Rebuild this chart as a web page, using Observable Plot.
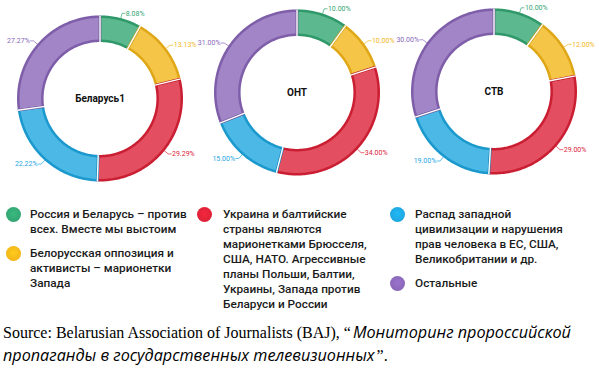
<!DOCTYPE html>
<html><head><meta charset="utf-8">
<script src="https://cdn.jsdelivr.net/npm/d3@7"></script>
<script src="https://cdn.jsdelivr.net/npm/@observablehq/plot@0.6"></script>
<style>
body{margin:0;background:#fff;}
#wrap{position:relative;width:599px;height:377px;overflow:hidden;font-family:Roboto,sans-serif;}
#chart{position:absolute;left:0;top:0;}
.item{position:absolute;font-size:11.8px;font-weight:500;line-height:15px;color:#1b1b1b;white-space:pre;}
.dot{position:absolute;width:15px;height:15px;border-radius:50%;}
#caption{position:absolute;left:3px;top:321px;font-family:"Liberation Serif",serif;font-size:16px;line-height:23px;color:#000;width:596px;}
#caption div{white-space:nowrap;height:23px;}
#caption i{font-family:"Open Sans",sans-serif;font-style:italic;font-size:16.2px;}
#caption .sp{margin-left:2px;}
</style></head><body>
<div id="wrap"><div id="chart"></div><div id="legend"></div><div id="caption"></div></div>
<script>
// ---- data ----
const charts = ["Беларусь1", "ОНТ", "СТВ"];
const categories = [
  "Россия и Беларусь – против\nвсех. Вместе мы выстоим",
  "Белорусская оппозиция и\nактивисты – марионетки\nЗапада",
  "Украина и балтийские\nстраны являются\nмарионетками Брюсселя,\nСША, НАТО. Агрессивные\nпланы Польши, Балтии,\nУкраины, Запада против\nБеларуси и России",
  "Распад западной\nцивилизации и нарушения\nправ человека в ЕС, США,\nВеликобритании и др.",
  "Остальные"
];
const belarus1 = [8.08, 13.13, 29.29, 22.22, 27.27];
const ont = [10.00, 10.00, 34.00, 15.00, 31.00];
const stv = [10.00, 12.00, 29.00, 19.00, 30.00];
const seriesValues = [belarus1, ont, stv];
const palette = ["#33a673", "#f2b619", "#dc2238", "#1ea6df", "#8a67b8"];
const captionSource = "Source: Belarusian Association of Journalists (BAJ), “";
const captionTitleLines = ["Мониторинг пророссийской", "пропаганды в государственных телевизионных"];
const captionEnd = "”.";

// ---- geometry derived from values ----
const rOut = 0.985, rIn = 0.695;
const polys = [], bounds = [], labels = [], leaders = [];
charts.forEach((chart, ci) => {
  const vals = seriesValues[ci];
  const total = d3.sum(vals);
  let acc = 0;
  vals.forEach((v, k) => {
    const cat = categories[k];
    const a0 = acc / total * 2 * Math.PI, a1 = (acc + v) / total * 2 * Math.PI;
    acc += v;
    const key = chart + "-" + k;
    const n = Math.max(2, Math.ceil((a1 - a0) / 0.02));
    for (let j = 0; j <= n; j++) { const a = a0 + (a1 - a0) * j / n; polys.push({chart, cat, key, x: rOut * Math.sin(a), y: rOut * Math.cos(a)}); }
    for (let j = n; j >= 0; j--) { const a = a0 + (a1 - a0) * j / n; polys.push({chart, cat, key, x: rIn * Math.sin(a), y: rIn * Math.cos(a)}); }
    bounds.push({chart, a: a0});
    const am = (a0 + a1) / 2;
    const side = Math.sin(am) >= 0 ? 1 : -1;
    leaders.push({chart, cat, key, x: 1.0 * Math.sin(am), y: 1.0 * Math.cos(am)});
    leaders.push({chart, cat, key, x: 1.06 * Math.sin(am), y: 1.06 * Math.cos(am)});
    leaders.push({chart, cat, key, x: 1.06 * Math.sin(am) + side * 0.035, y: 1.06 * Math.cos(am)});
    labels.push({chart, cat, side, text: v.toFixed(2) + "%", x: 1.06 * Math.sin(am) + side * 0.045, y: 1.06 * Math.cos(am)});
  });
});

const dys = [6, 0, -1];
const marks = charts.flatMap((c, i) => {
  const f = d => d.chart === c;
  const dy = dys[i];
  return [
    Plot.line(polys.filter(f), {x: "x", y: "y", z: "key", fx: "chart", fill: "cat", fillOpacity: 0.8, stroke: "cat", strokeWidth: 2.5, curve: "linear-closed", dy}),
    Plot.line(polys.filter(f), {x: "x", y: "y", z: "key", fx: "chart", fill: "none", stroke: "black", strokeOpacity: 0.08, strokeWidth: 2.5, curve: "linear-closed", dy}),
    Plot.link(bounds.filter(f), {x1: d => 0.67 * Math.sin(d.a), y1: d => 0.67 * Math.cos(d.a), x2: d => 1.0 * Math.sin(d.a), y2: d => 1.0 * Math.cos(d.a), fx: "chart", stroke: "white", strokeWidth: 1.4, dy}),
    Plot.line(leaders.filter(f), {x: "x", y: "y", z: "key", fx: "chart", stroke: "cat", strokeWidth: 0.7, dy}),
    Plot.text(labels.filter(d => f(d) && d.side > 0), {x: "x", y: "y", text: "text", fx: "chart", fill: "cat", textAnchor: "start", fontSize: 7, dy}),
    Plot.text(labels.filter(d => f(d) && d.side < 0), {x: "x", y: "y", text: "text", fx: "chart", fill: "cat", textAnchor: "end", fontSize: 7, dy}),
    Plot.text([c], {x: () => 0, y: () => 0, text: d => d, fx: d => d, fontWeight: "bold", fontSize: 10, fill: "#111", dy})
  ];
});

const chart = Plot.plot({
  width: 599, height: 195,
  marginTop: 0, marginBottom: 0, marginLeft: 1, marginRight: 7,
  style: {fontFamily: "Roboto, sans-serif", background: "white", overflow: "visible"},
  fx: {domain: charts, padding: 0, axis: null},
  x: {domain: [-1.187, 1.187], axis: null},
  y: {domain: [-1.241, 1.108], axis: null},
  color: {domain: categories, range: palette},
  marks
});
document.getElementById("chart").appendChild(chart);

// ---- legend (HTML) ----
const legendPos = [
  {dx: 13, tx: 30, y: 214},
  {dx: 13, tx: 30, y: 253},
  {dx: 204, tx: 223, y: 214},
  {dx: 397, tx: 415, y: 214},
  {dx: 397, tx: 415, y: 283}
];
const legend = document.getElementById("legend");
categories.forEach((c, k) => {
  const p = legendPos[k];
  const dot = document.createElement("div");
  dot.className = "dot";
  dot.style.left = (p.dx - 7.5) + "px";
  dot.style.top = (p.y - 7.5) + "px";
  const col = d3.color(palette[k]);
  dot.style.background = `radial-gradient(circle at 50% 45%, ${col.brighter(0.3)} 0%, ${col} 70%, ${col.darker(0.3)} 100%)`;
  legend.appendChild(dot);
  const t = document.createElement("div");
  t.className = "item";
  t.style.left = p.tx + "px";
  t.style.top = (p.y - 7.5) + "px";
  t.textContent = c;
  legend.appendChild(t);
});

// ---- caption ----
const cap = document.getElementById("caption");
const l1 = document.createElement("div");
const s1 = document.createElement("span"); s1.textContent = captionSource;
const i1 = document.createElement("i"); i1.className = "sp"; i1.textContent = captionTitleLines[0];
l1.append(s1, i1);
const l2 = document.createElement("div");
const i2 = document.createElement("i"); i2.textContent = captionTitleLines[1];
const s2 = document.createElement("span"); s2.className = "sp"; s2.textContent = captionEnd;
l2.append(i2, s2);
cap.append(l1, l2);
</script>
</body></html>
